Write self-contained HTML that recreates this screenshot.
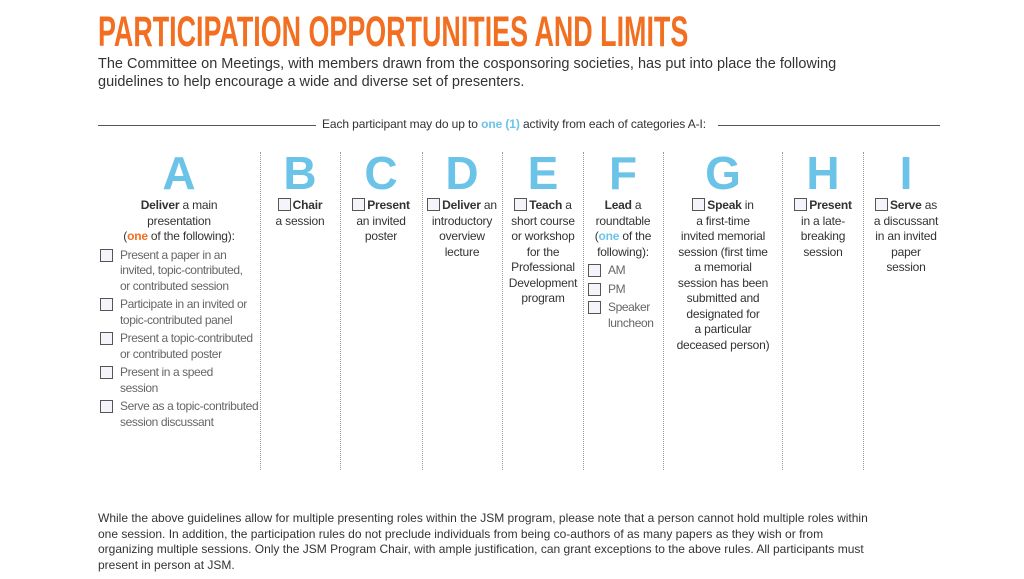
<!DOCTYPE html>
<html><head><meta charset="utf-8"><style>
body{margin:0;width:1024px;height:579px;background:#fff;position:relative;overflow:hidden;font-family:"Liberation Sans",sans-serif;color:#333}
.a{position:absolute}
#title{left:98px;top:8px;font-size:43px;font-weight:bold;color:#f26f21;white-space:nowrap;transform:scaleX(0.625);transform-origin:left top}
.sub{left:98px;font-size:14.5px;color:#333;white-space:nowrap}
.hl{top:125px;height:1px;background:#555}
.sep{top:152px;height:318px;border-left:1px dotted #999}
.col{top:148px;text-align:center;font-size:12px;line-height:15.5px;color:#333;letter-spacing:-0.2px}
.L{font-size:46px;font-weight:bold;color:#6cc3e8;line-height:50px;letter-spacing:0}
.cb{display:inline-block;width:11px;height:11px;border:1.3px solid #555;background:#f4f4fa;vertical-align:-2px;margin-right:2px}
.gr{color:#666}
.li{position:relative;padding-left:20px;text-align:left;margin-top:3px;letter-spacing:-0.4px;white-space:nowrap}
.li .cb{position:absolute;left:0;top:1px}
.or{color:#f26f21;font-weight:bold}
.bl{color:#6cc3e8;font-weight:bold}
.bot{left:98px;top:511px;font-size:12px;line-height:15.5px;color:#333;white-space:nowrap}
</style></head><body>
<div class="a" id="title">PARTICIPATION OPPORTUNITIES AND LIMITS</div>
<div class="a sub" style="top:56px">The Committee on Meetings, with members drawn from the cosponsoring societies, has put into place the following</div>
<div class="a sub" style="top:74px">guidelines to help encourage a wide and diverse set of presenters.</div>
<div class="a hl" style="left:98px;width:218px"></div>
<div class="a hl" style="left:718px;width:222px"></div>
<div class="a" style="left:322px;top:117px;font-size:12px;white-space:nowrap;letter-spacing:-0.1px">Each participant may do up to <span class="bl">one (1)</span> activity from each of categories A-I:</div>
<div class="a sep" style="left:260px"></div><div class="a sep" style="left:340px"></div><div class="a sep" style="left:422px"></div><div class="a sep" style="left:502px"></div><div class="a sep" style="left:583px"></div><div class="a sep" style="left:663px"></div><div class="a sep" style="left:782px"></div><div class="a sep" style="left:863px"></div>

<div class="a col" style="left:100px;width:158px"><div class="L">A</div><b>Deliver</b> a main<br>presentation<br>(<span class="or">one</span> of the following):
<div class="gr">
<div class="li"><span class="cb"></span>Present a paper in an<br>invited, topic-contributed,<br>or contributed session</div>
<div class="li"><span class="cb"></span>Participate in an invited or<br>topic-contributed panel</div>
<div class="li"><span class="cb"></span>Present a topic-contributed<br>or contributed poster</div>
<div class="li"><span class="cb"></span>Present in a speed<br>session</div>
<div class="li"><span class="cb"></span>Serve as a topic-contributed<br>session discussant</div>
</div></div>
<div class="a col" style="left:262px;width:76px"><div class="L">B</div><span class="cb"></span><b>Chair</b><br>a session</div>
<div class="a col" style="left:342px;width:78px"><div class="L">C</div><span class="cb"></span><b>Present</b><br>an invited<br>poster</div>
<div class="a col" style="left:423px;width:78px"><div class="L">D</div><span class="cb"></span><b>Deliver</b> an<br>introductory<br>overview<br>lecture</div>
<div class="a col" style="left:503px;width:80px"><div class="L">E</div><span class="cb"></span><b>Teach</b> a<br>short course<br>or workshop<br>for the<br>Professional<br>Development<br>program</div>
<div class="a col" style="left:584px;width:78px"><div class="L">F</div><b>Lead</b> a<br>roundtable<br>(<span class="bl">one</span> of the<br>following):
<div class="gr" style="padding-left:4px">
<div class="li" style="margin-top:3px"><span class="cb"></span>AM</div>
<div class="li"><span class="cb"></span>PM</div>
<div class="li"><span class="cb"></span>Speaker<br>luncheon</div></div></div>
<div class="a col" style="left:664px;width:118px"><div class="L">G</div><span class="cb"></span><b>Speak</b> in<br>a first-time<br>invited memorial<br>session (first time<br>a memorial<br>session has been<br>submitted and<br>designated for<br>a particular<br>deceased person)</div>
<div class="a col" style="left:783px;width:80px"><div class="L">H</div><span class="cb"></span><b>Present</b><br>in a late-<br>breaking<br>session</div>
<div class="a col" style="left:864px;width:84px"><div class="L">I</div><span class="cb"></span><b>Serve</b> as<br>a discussant<br>in an invited<br>paper<br>session</div>

<div class="a bot">While the above guidelines allow for multiple presenting roles within the JSM program, please note that a person cannot hold multiple roles within<br>one session. In addition, the participation rules do not preclude individuals from being co-authors of as many papers as they wish or from<br>organizing multiple sessions. Only the JSM Program Chair, with ample justification, can grant exceptions to the above rules. All participants must<br>present in person at JSM.</div>
</body></html>
